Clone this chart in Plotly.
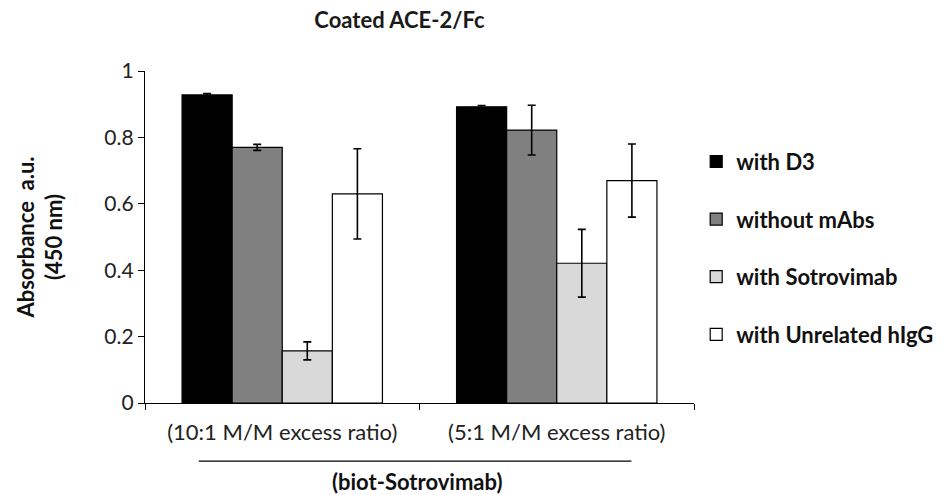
import plotly.graph_objects as go

categories = ["(10:1 M/M excess ratio)", "(5:1 M/M excess ratio)"]
series_names = ["with D3", "without mAbs", "with Sotrovimab", "with Unrelated hIgG"]
with_d3 = [0.928, 0.892]
with_d3_err = [0.004, 0.004]
without_mabs = [0.770, 0.822]
without_mabs_err = [0.009, 0.075]
with_sotro = [0.157, 0.421]
with_sotro_err = [0.027, 0.102]
with_higg = [0.630, 0.670]
with_higg_err = [0.136, 0.110]

values = [with_d3, without_mabs, with_sotro, with_higg]
errors = [with_d3_err, without_mabs_err, with_sotro_err, with_higg_err]
colors = ["#000000", "#808080", "#d9d9d9", "#ffffff"]

FONT = "Lato"
fig = go.Figure()
for i, (name, v, e, c) in enumerate(zip(series_names, values, errors, colors)):
    fig.add_trace(go.Bar(
        x=categories, y=v, name=f"<b>{name}</b>", legendgroup=f"g{i}",
        marker=dict(color=c, line=dict(color="#000000", width=1.2)),
        error_y=dict(type="data", array=e, visible=True, color="#000000",
                     thickness=1.6, width=4),
    ))

fig.update_layout(
    width=951, height=495,
    paper_bgcolor="white", plot_bgcolor="white",
    barmode="group", bargap=0.27, bargroupgap=0,
    margin=dict(l=145, r=254, t=71, b=92),
    font=dict(family=FONT, color="#222222"),
    title=dict(text="<b>Coated ACE-2/Fc</b>", x=0.42, xanchor="center",
               y=0.96, yanchor="middle", font=dict(size=22, family=FONT, color="#1a1a1a")),
    legend=dict(x=1.004, xanchor="left", y=0.79, yanchor="top",
                font=dict(size=22, family=FONT, color="#111111"),
                tracegroupgap=26, itemwidth=30, bgcolor="rgba(0,0,0,0)"),
    showlegend=True,
)
fig.update_xaxes(
    type="category", showline=True, linecolor="#000000", linewidth=1.2,
    ticks="outside", tickson="boundaries", ticklen=6, tickcolor="#000000",
    ticklabelstandoff=9,
    tickfont=dict(size=22, family=FONT, color="#222222"), showgrid=False,
)
fig.update_yaxes(
    range=[0, 1.0], tickvals=[0, 0.2, 0.4, 0.6, 0.8, 1.0],
    ticktext=["0", "0.2", "0.4", "0.6", "0.8", "1"],
    showline=True, linecolor="#000000", linewidth=1.2,
    ticks="outside", ticklen=6, tickcolor="#000000",
    tickfont=dict(size=21, family=FONT, color="#222222"), showgrid=False,
    zeroline=False,
    title=dict(text="<b>Absorbance  a.u.<br>(450 nm)</b>", standoff=35,
               font=dict(size=22, family=FONT, color="#111111")),
)
fig.add_shape(type="line", xref="paper", yref="paper",
              x0=0.098, x1=0.886, y0=-0.175, y1=-0.175,
              line=dict(color="#000000", width=1.2))
fig.add_annotation(text="<b>(biot-Sotrovimab)</b>", xref="paper", yref="paper",
                   x=0.495, y=-0.237, yanchor="middle", showarrow=False,
                   font=dict(size=22, family=FONT, color="#111111"))

fig.write_html("out.html", config={"displayModeBar": False},
               post_script="document.body.style.margin='0px';")
